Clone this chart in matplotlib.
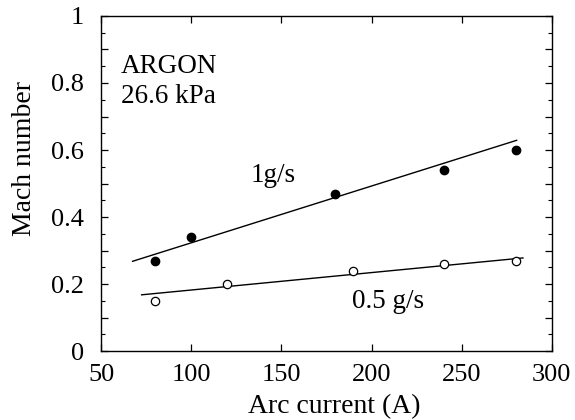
import matplotlib.pyplot as plt
from matplotlib.ticker import MultipleLocator

# ======================
# Data
# ======================

current_1g = [80, 100, 180, 240, 280]
mach_1g = [0.27, 0.34, 0.47, 0.54, 0.60]

current_05g = [80, 120, 190, 240, 280]
mach_05g = [0.15, 0.20, 0.24, 0.26, 0.27]

# fitted lines, end points
fit_1g_x = [67.5, 280.5]
fit_1g_y = [0.268, 0.629]

fit_05g_x = [72.5, 284]
fit_05g_y = [0.168, 0.278]

y_ticks = [0, 0.1, 0.2, 0.3, 0.4, 0.5, 0.6, 0.7, 0.8, 0.9, 1.0]
y_labels = ["0", "", "0.2", "", "0.4", "", "0.6", "", "0.8", "", "1"]

# ======================
# Plot
# ======================

plt.rcParams["font.family"] = ["Liberation Serif", "DejaVu Serif"]
plt.rcParams["font.size"] = 19

fig = plt.figure(figsize=(5.75, 4.2), dpi=100)
ax = fig.add_axes([0.1757, 0.164, 0.784, 0.798])

ax.plot(fit_1g_x, fit_1g_y, color="black", linewidth=1.0)
ax.plot(fit_05g_x, fit_05g_y, color="black", linewidth=1.0)

ax.plot(
    current_1g,
    mach_1g,
    linestyle="none",
    marker="o",
    markersize=6,
    color="black"
)

ax.plot(
    current_05g,
    mach_05g,
    linestyle="none",
    marker="o",
    markersize=6,
    markerfacecolor="white",
    markeredgecolor="black",
    markeredgewidth=0.9
)

ax.set_xlim(50, 300)
ax.set_ylim(0, 1)

ax.xaxis.set_major_locator(MultipleLocator(50))
ax.set_yticks(y_ticks)
ax.set_yticklabels(y_labels)
ax.yaxis.set_minor_locator(MultipleLocator(0.05))

ax.tick_params(
    which="major",
    direction="in",
    top=True,
    right=True,
    length=5,
    width=0.9,
    labelsize=19
)
ax.tick_params(axis="x", which="major", pad=9)
ax.tick_params(axis="y", which="major", pad=12)
ax.tick_params(
    which="minor",
    direction="in",
    right=True,
    length=3,
    width=0.8
)

for s in ax.spines.values():
    s.set_linewidth(1.0)

ax.set_xlabel("Arc current (A)", fontsize=20, labelpad=6, x=0.517)
ax.set_ylabel("Mach number", fontsize=20, labelpad=10, y=0.575)

ax.text(61, 0.83, "ARGON", ha="left", va="baseline", fontsize=19.5)
ax.text(61, 0.74, "26.6 kPa", ha="left", va="baseline", fontsize=19.5)
ax.text(133, 0.505, "1g/s", ha="left", va="baseline", fontsize=19.5)
ax.text(189, 0.129, "0.5 g/s", ha="left", va="baseline", fontsize=19.5)

plt.savefig("out.png", dpi=100)
